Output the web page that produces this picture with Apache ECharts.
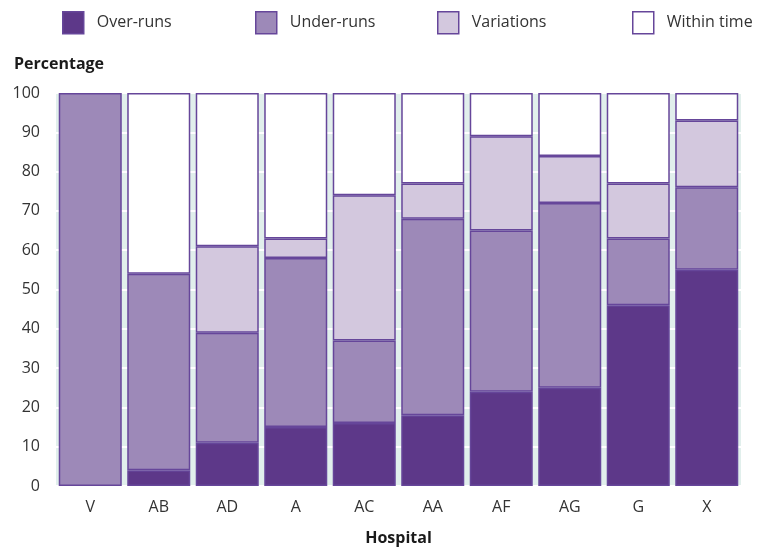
<!DOCTYPE html>
<html><head><meta charset="utf-8">
<script src="https://cdn.jsdelivr.net/npm/echarts@6/dist/echarts.min.js"></script>
<style>html,body{margin:0;padding:0;background:#fff}#c{width:766px;height:551px}</style>
</head><body><div id="c"></div>
<script>
const hospitals = ['V','AB','AD','A','AC','AA','AF','AG','G','X'];
const overRuns   = [0, 4, 11, 15, 16, 18, 24, 25, 46, 55];
const underRuns  = [100, 50, 28, 43, 21, 50, 41, 47, 17, 21];
const variations = [0, 0, 22, 5, 37, 9, 24, 12, 14, 17];
const withinTime = [0, 46, 39, 37, 26, 23, 11, 16, 23, 7];
const yTicks = [0,10,20,30,40,50,60,70,80,90,100];

const names = ['Over-runs','Under-runs','Variations','Within time'];
const colors = ['#5d3889','#9d89b8','#d3c8de','#ffffff'];
const datas = [overRuns, underRuns, variations, withinTime];
const border = '#66469a';
const font = "'Open Sans', 'Noto Sans', sans-serif";

const chart = echarts.init(document.getElementById('c'), null, {renderer:'canvas'});
const legendLefts = [57, 250, 432, 627];
chart.setOption({
  animation:false,
  textStyle:{fontFamily:font},
  title:{text:'Percentage', left:9, top:51, textStyle:{fontFamily:font, fontSize:16, fontWeight:'bold', color:'#1a1a1a'}},
  legend: names.map((n,i)=>({
    data:[n], left:legendLefts[i], top:6, itemWidth:21, itemHeight:22, itemGap:0,
    icon:'rect',
    itemStyle:{borderColor:border, borderWidth:1.5},
    textStyle:{fontFamily:font, fontSize:16, color:'#333', padding:[0,0,0,8]}
  })),
  grid:{left:56, right:25, top:93, bottom:65, show:true, backgroundColor:'#e1efec', borderWidth:0,
        containLabel:false, outerBoundsMode:'none'},
  xAxis:{
    type:'category', data:hospitals,
    name:'Hospital', nameLocation:'middle', nameGap:44,
    nameTextStyle:{fontFamily:font, fontSize:16, fontWeight:'bold', color:'#1a1a1a'},
    axisLine:{show:false}, axisTick:{show:false},
    axisLabel:{fontFamily:font, fontSize:16, color:'#333', margin:13}
  },
  yAxis:{
    type:'value', min:0, max:100, interval:10,
    axisLine:{show:false}, axisTick:{show:false},
    axisLabel:{fontFamily:font, fontSize:16, color:'#333', margin:16, padding:[0,0,7,0],
      formatter:v=>yTicks.includes(v)?String(v):''},
    splitLine:{show:true, lineStyle:{color:'#ffffff', width:2}}
  },
  series: names.map((n,i)=>({
    name:n, type:'bar', stack:'t', barCategoryGap:'8%',
    data: datas[i].map(v=>v===0?null:v),
    itemStyle:{color:colors[i], borderColor:border, borderWidth:1.5}
  }))
});
</script></body></html>
